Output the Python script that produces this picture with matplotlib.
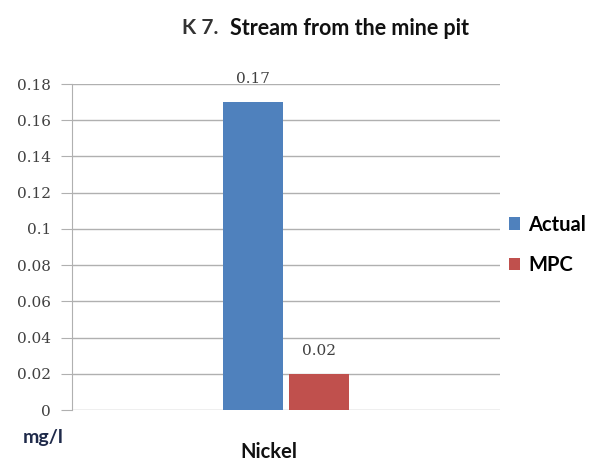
import matplotlib
matplotlib.use("Agg")
import matplotlib.pyplot as plt
import numpy as np

categories = ["Nickel"]
series_names = ["Actual", "MPC"]
actual = [0.17]
mpc = [0.02]
yticks = [0, 0.02, 0.04, 0.06, 0.08, 0.1, 0.12, 0.14, 0.16, 0.18]
ytick_labels = ["0", "0.02", "0.04", "0.06", "0.08", "0.1", "0.12", "0.14", "0.16", "0.18"]

colors = ["#4F81BD", "#C0504D"]

fig = plt.figure(figsize=(5.94, 4.67), dpi=100)
ax = fig.add_axes([0.121, 0.122, 0.721, 0.698])

x = np.arange(len(categories))
w = 0.14
gap = 0.007
b1 = ax.bar(x - w/2 - gap, actual, w, color=colors[0], label=series_names[0], zorder=3)
b2 = ax.bar(x + w/2 + gap, mpc, w, color=colors[1], label=series_names[1], zorder=3)

for bars, vals in ((b1, actual), (b2, mpc)):
    for r, v in zip(bars, vals):
        ax.text(r.get_x() + r.get_width()/2, v + 0.009, f"{v:g}", ha="center", va="bottom",
                fontsize=11, color="#404040", family="DejaVu Serif", zorder=4)

ax.set_xlim(-0.5, 0.5)
ax.set_ylim(0, 0.18)
ax.set_yticks(yticks)
ax.set_yticklabels(ytick_labels, family="DejaVu Serif", fontsize=11, color="#404040")
ax.set_xticks([])
ax.grid(axis="y", color="#B0B0B0", linewidth=1, zorder=0)
for s in ["top", "right", "bottom"]:
    ax.spines[s].set_visible(False)
ax.spines["left"].set_color("#B0B0B0")
ax.tick_params(axis="y", length=8, color="#B0B0B0", pad=7)

fig.text(0.073, 0.064, "mg/l", ha="center", va="center", fontsize=14, fontweight="bold",
         color="#1F2A4A", family="Lato")
fig.text(0.453, 0.032, categories[0], ha="center", va="center", fontsize=14.5, fontweight="bold",
         color="#111111", family="Lato")

fig.text(0.306, 0.94, "K 7.", ha="left", va="center", fontsize=15, fontweight="bold",
         color="#333333", family="Lato")
fig.text(0.387, 0.94, "Stream from the mine pit", ha="left", va="center", fontsize=15.5,
         fontweight="bold", color="#111111", family="Lato")

leg = fig.legend(handles=[b1, b2], labels=series_names, loc="center left",
                 bbox_to_anchor=(0.857, 0.476), frameon=False, handlelength=0.55,
                 handleheight=0.55, handletextpad=0.4, labelspacing=1.0,
                 borderpad=0, borderaxespad=0,
                 prop={"family": "Lato", "weight": "bold", "size": 14.5})

fig.savefig("out.png", dpi=100)
